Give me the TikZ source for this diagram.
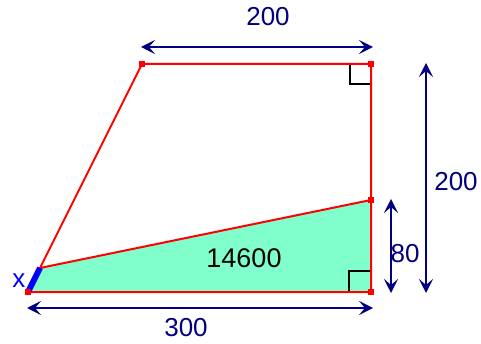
\documentclass[tikz,border=0pt]{standalone}
\usepackage{fontspec}
\setmainfont{Liberation Sans}
\usetikzlibrary{arrows.meta}
\definecolor{navy}{RGB}{0,0,128}
\definecolor{mint}{RGB}{128,255,204}
\begin{document}
\begin{tikzpicture}[x=1pt,y=-1pt,
  redline/.style={red,line width=2pt},
  dimarrow/.style={navy,line width=2.4pt,{Stealth[length=14pt,width=14pt,inset=6pt]}-{Stealth[length=14pt,width=14pt,inset=6pt]}},
  dimlabel/.style={navy,font=\fontsize{26}{26}\selectfont,inner sep=0pt},
  vmark/.style={fill=red,minimum size=6pt,inner sep=0pt,draw=none},
  rightangle/.style={black,line width=1.8pt}]
\useasboundingbox (0,0) rectangle (481,344);
\coordinate (A) at (28,292);
\coordinate (B) at (142,64);
\coordinate (C) at (371,64);
\coordinate (D) at (371,292);
\coordinate (E) at (371,200);
\coordinate (F) at (40,268);
% green region
\fill[mint] (A) -- (F) -- (E) -- (D) -- cycle;
% right angle markers
\draw[rightangle] (350,64) -- (350,84) -- (371,84);
\draw[rightangle] (349,292) -- (349,271) -- (371,271);
% red lines
\draw[redline] (A) -- (B) -- (C) -- (D) -- cycle;
\draw[redline] (F) -- (E);
% blue segment x
\draw[blue,line width=6pt] (A) -- (F);
% vertex markers
\foreach \p in {A,B,C,D,E} \node[vmark] at (\p) {};
% dimension arrows
\coordinate (t1) at (141,47); \coordinate (t2) at (373,47);
\draw[dimarrow] (t1) -- (t2);
\coordinate (r1) at (426,63); \coordinate (r2) at (426,293);
\draw[dimarrow] (r1) -- (r2);
\coordinate (m1) at (391,199); \coordinate (m2) at (391,293);
\draw[dimarrow] (m1) -- (m2);
\coordinate (b1) at (27,308); \coordinate (b2) at (373,308);
\draw[dimarrow] (b1) -- (b2);
% labels
\node[dimlabel] (l1) at (268,17) {200};
\node[dimlabel] (l2) at (456,182) {200};
\node[dimlabel] (l3) at (405,254) {80};
\node[dimlabel] (l4) at (186,328) {300};
\node[inner sep=0pt,font=\fontsize{27}{27}\selectfont] (area) at (244,258) {14600};
\node[blue,inner sep=0pt,font=\fontsize{26}{26}\selectfont] (xl) at (19,281) {x};
\end{tikzpicture}
\end{document}
